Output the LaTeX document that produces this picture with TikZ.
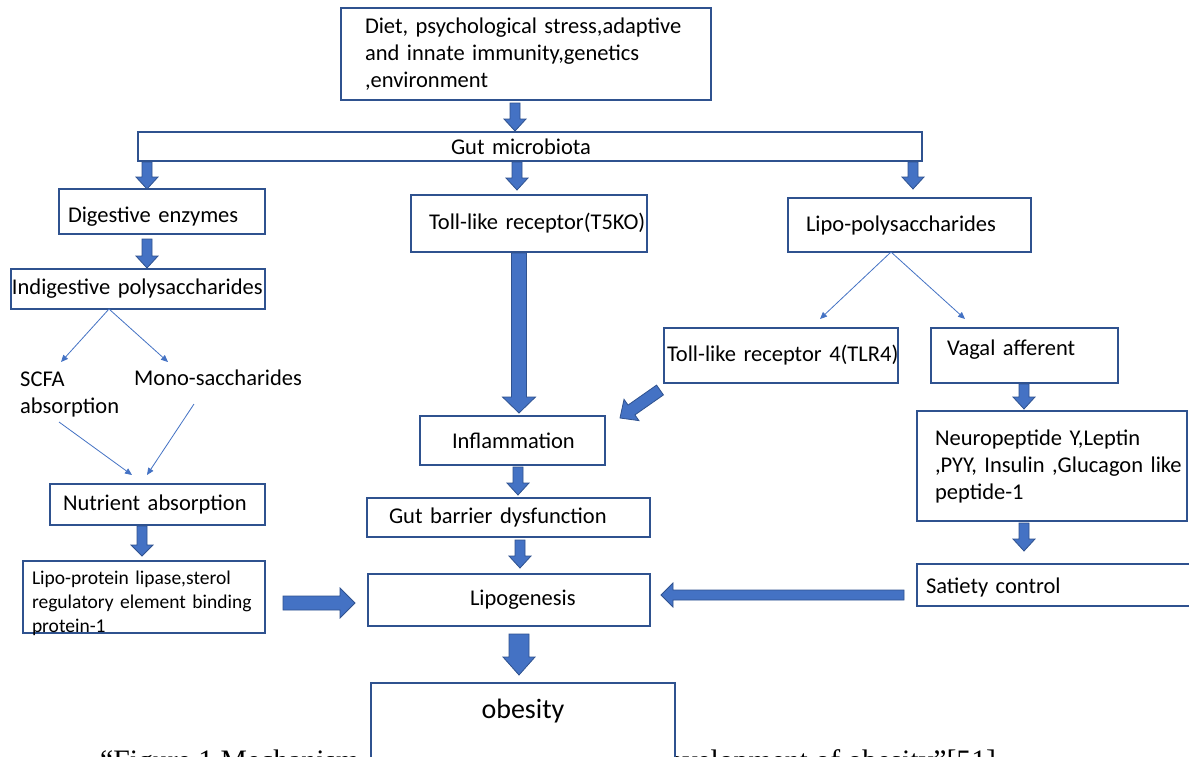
\documentclass[tikz,border=0pt]{standalone}
\usepackage{fontspec}
\setmainfont{Carlito}
\newfontfamily\capfont{Liberation Serif}
\usetikzlibrary{calc,arrows.meta}
\definecolor{boxc}{RGB}{47,82,143}
\definecolor{blkf}{RGB}{68,114,196}
\definecolor{blkd}{RGB}{47,82,143}
\definecolor{thinc}{RGB}{68,114,196}
% block arrow: #1 from, #2 to, #3 shaft half width, #4 head half width, #5 head length
\newcommand\blockarrow[5]{%
  \filldraw[blk] let \p1=(#1), \p2=(#2),
    \n1={atan2(\y2-\y1,\x2-\x1)}, \n2={veclen(\x2-\x1,\y2-\y1)} in
    {[shift={(\p1)}, rotate=\n1]
     (0pt,{-#3*1pt}) -- ({(\n2-#5)*1pt},{-#3*1pt}) -- ({(\n2-#5)*1pt},{-#4*1pt})
     -- ({\n2*1pt},0pt) -- ({(\n2-#5)*1pt},{#4*1pt}) -- ({(\n2-#5)*1pt},{#3*1pt})
     -- (0pt,{#3*1pt}) -- cycle};
}
\begin{document}
\begin{tikzpicture}[x=1pt,y=-1pt,
  every node/.style={font=\fontsize{22.5}{27}\selectfont},
  bx/.style={draw=boxc, line width=1.5pt, fill=white, inner ysep=0pt,
    outer sep=0pt, align=left, anchor=north west},
  blk/.style={fill=blkf, draw=blkd, line width=0.8pt, line join=miter},
  thinarr/.style={draw=thinc, line width=0.8pt, -{Triangle[length=7pt,width=6pt]}},
  plain/.style={inner sep=0pt, align=left, anchor=west}]
\useasboundingbox (0,0) rectangle (1189,756);
\fill[white] (0,0) rectangle (1189,756);

% caption (cut by the lower edge)
\begin{scope}
\clip (0,0) rectangle (1189,756);
\node[inner sep=0pt, anchor=base west, font=\capfont\fontsize{29.7}{32}\selectfont] (cap) at (100,770)
  {“Figure 1 Mechanism of gut microbiota in the development of obesity”[51]};
\end{scope}

% boxes
\node[bx, minimum width=370pt, minimum height=92pt, inner xsep=24pt, text width=322pt] (top) at (341,8)
  {\mbox{Diet, psychological stress,adaptive}\\\mbox{and innate immunity,genetics}\\,environment};
\node[bx, minimum width=784pt, minimum height=29pt, inner xsep=313pt, text width=158pt] (gut) at (138,132)
  {\mbox{Gut microbiota}};
\node[bx, minimum width=206pt, minimum height=45pt, inner xsep=9pt, text width=188pt,
  text height=33pt, text depth=12pt] (dig) at (59,189)
  {\mbox{Digestive enzymes}};
\node[bx, minimum width=254pt, minimum height=40pt, inner xsep=1pt, text width=252pt] (indig) at (11,269)
  {\mbox{Indigestive polysaccharides}};
\node[bx, minimum width=236pt, minimum height=57pt, inner xsep=18pt, text width=200pt] (t5ko) at (411,195)
  {\mbox{Toll-like receptor(T5KO)}};
\node[bx, minimum width=243pt, minimum height=54pt, inner xsep=18pt, text width=207pt] (lps) at (788,198)
  {\mbox{Lipo-polysaccharides}};
\node[bx, minimum width=234pt, minimum height=55pt, inner xsep=3pt, text width=228pt] (tlr4) at (664,328)
  {\mbox{Toll-like receptor 4(TLR4)}};
\node[bx, minimum width=187pt, minimum height=55pt, inner xsep=16pt, text width=155pt,
  text height=27pt, text depth=28pt] (vagal) at (931,328)
  {\mbox{Vagal afferent}};
\node[bx, minimum width=270pt, minimum height=110pt, inner xsep=18pt, text width=234pt] (neuro) at (917,411)
  {\mbox{Neuropeptide Y,Leptin}\\\mbox{,PYY, Insulin ,Glucagon like}\\\mbox{peptide-1}};
\node[bx, minimum width=185pt, minimum height=49pt, inner xsep=32pt, text width=121pt] (infl) at (420,416)
  {\mbox{Inflammation}};
\node[bx, minimum width=283pt, minimum height=39pt, inner xsep=22pt, text width=239pt] (barrier) at (367,498)
  {\mbox{Gut barrier dysfunction}};
\node[bx, minimum width=215pt, minimum height=41pt, inner xsep=13pt, text width=189pt] (nutr) at (50,484)
  {\mbox{Nutrient absorption}};
\node[bx, minimum width=242pt, minimum height=72pt, inner xsep=9pt, text width=224pt,
  text height=23pt, text depth=49pt,
  font=\fontsize{19.5}{24}\selectfont] (lpl) at (23,561)
  {\mbox{Lipo-protein lipase,sterol}\\\mbox{regulatory element binding}\\\mbox{protein-1}};
\node[bx, minimum width=282pt, minimum height=52pt, inner xsep=102pt, text width=78pt] (lipo) at (368,574)
  {\mbox{Lipogenesis}};
\node[bx, minimum width=278pt, minimum height=42pt, inner xsep=9pt, text width=260pt,
  text height=29pt, text depth=13pt] (sat) at (917,564)
  {\mbox{Satiety control}};
\node[bx, line width=2.5pt, minimum width=304pt, inner xsep=2pt, text width=300pt, align=center,
  text height=35pt, text depth=82pt, font=\fontsize{28}{32}\selectfont] (obes) at (371,683)
  {obesity};

% free text
\node[plain] (scfa) at (20,394.5) {SCFA\\absorption};
\node[plain] (mono) at (134,378) {Mono-saccharides};

% thin arrow ends
\coordinate (scfaIn) at (61,362);
\coordinate (monoIn) at (168,362);
\coordinate (scfaOut) at (59,422);
\coordinate (monoOut) at (194,404);
\coordinate (nutrInA) at (132,475);
\coordinate (nutrInB) at (147,475);
\coordinate (tlrIn) at (820,319);
\coordinate (vagIn) at (965,319);

\draw[thinarr] ([xshift=-29pt]indig.south) -- (scfaIn);
\draw[thinarr] ([xshift=-29pt]indig.south) -- (monoIn);
\draw[thinarr] (scfaOut) -- (nutrInA);
\draw[thinarr] (monoOut) -- (nutrInB);
\draw[thinarr] ([xshift=-18.5pt]lps.south) -- (tlrIn);
\draw[thinarr] ([xshift=-18.5pt]lps.south) -- (vagIn);

% block arrows
\blockarrow{[shift={(-11,3)}]top.south}{[shift={(-15,-1)}]gut.north}{5}{11}{12}
\blockarrow{[shift={(-383,1)}]gut.south}{[shift={(-15,0)}]dig.north}{5}{11}{12}
\blockarrow{[shift={(-13,1)}]gut.south}{[shift={(-12,-5)}]t5ko.north}{5}{11}{12}
\blockarrow{[shift={(383,1)}]gut.south}{[shift={(3.5,-9)}]lps.north}{5}{11}{12}
\blockarrow{[shift={(-15,5)}]dig.south}{[shift={(9,-1)}]indig.north}{5}{11}{12}
\blockarrow{[shift={(-10,1)}]t5ko.south}{[shift={(6.5,-3)}]infl.north}{7.5}{16.5}{16}
\blockarrow{[shift={(-4,7)}]tlr4.south west}{[shift={(15,-22.5)}]infl.east}{6}{13}{14}
\blockarrow{[shift={(-0.5,1)}]vagal.south}{[shift={(-28,-2)}]neuro.north}{5}{11}{12}
\blockarrow{[shift={(5.5,2)}]infl.south}{[shift={(9.5,-3)}]barrier.north}{5}{11}{12}
\blockarrow{[shift={(11.5,3)}]barrier.south}{[shift={(11,-6)}]lipo.north}{5}{11}{12}
\blockarrow{[shift={(-28,2)}]neuro.south}{[shift={(-32,-13)}]sat.north}{5}{11}{12}
\blockarrow{[shift={(-15.5,1)}]nutr.south}{[shift={(-2,-5)}]lpl.north}{5}{11}{11}
\blockarrow{[shift={(18,6)}]lpl.east}{[shift={(-13,3)}]lipo.west}{7}{15}{15}
\blockarrow{[shift={(-13,10)}]sat.west}{[shift={(11,-5)}]lipo.east}{5}{12}{12}
\blockarrow{[shift={(10,8)}]lipo.south}{[shift={(-4,-8)}]obes.north}{10}{16}{18}
\end{tikzpicture}
\end{document}
